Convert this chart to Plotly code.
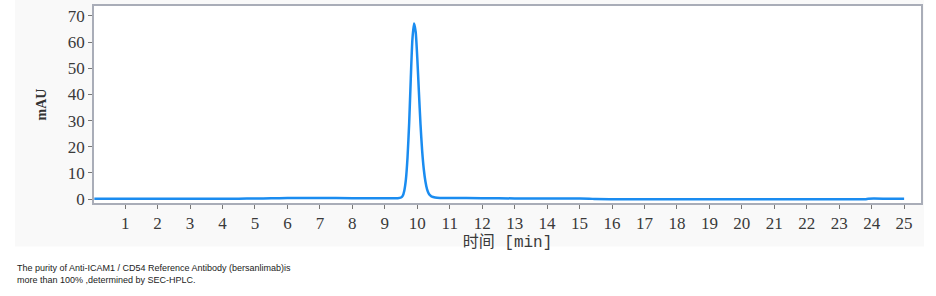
import plotly.graph_objects as go

# Chromatogram samples (time in min, signal in mAU)
time_min = [0.05, 1.0, 2.0, 3.0, 4.0, 4.5, 5.0, 5.5, 6.0, 7.0, 8.0, 9.0, 9.40, 9.50, 9.55,
            9.60, 9.65, 9.70, 9.75, 9.80, 9.85, 9.90, 9.95, 10.00, 10.05, 10.10,
            10.15, 10.20, 10.25, 10.30, 10.35, 10.40, 10.45, 10.55, 10.70, 11.0,
            12.0, 13.0, 14.0, 15.0, 15.3, 15.5, 16.0, 18.0, 20.0, 22.0, 23.8, 23.9,
            24.5, 25.0]
signal_mau = [0.1, 0.1, 0.1, 0.1, 0.1, 0.15, 0.2, 0.3, 0.4, 0.4, 0.35, 0.3, 0.3, 0.6, 1.2,
              3.2, 7.5, 16.0, 29.0, 46.0, 61.0, 67.1, 64.0, 54.0, 41.0, 28.5,
              18.5, 11.5, 6.8, 3.8, 2.2, 1.4, 0.9, 0.6, 0.45, 0.4,
              0.35, 0.25, 0.2, 0.2, 0.15, 0.0, -0.05, -0.05, -0.05, -0.05, -0.05, 0.15,
              0.15, 0.15]

x_ticks = list(range(1, 26))
y_ticks = [0, 10, 20, 30, 40, 50, 60, 70]

x_title = "时间 [min]"
y_title = "mAU"
caption = ("The purity of Anti-ICAM1 / CD54 Reference Antibody (bersanlimab)is<br>"
           "more than 100% ,determined by SEC-HPLC.")

fig = go.Figure()
fig.add_trace(go.Scatter(x=time_min, y=signal_mau, mode="lines",
                         line=dict(color="#1a8cf0", width=2.5, shape="spline", smoothing=0.6),
                         hoverinfo="skip", showlegend=False))

axis_color = "#a9adb8"
tick_font = dict(family="'Liberation Serif', 'DejaVu Serif', serif", size=17, color="#3a3a3a")

fig.update_xaxes(range=[0.04, 25.52], tickvals=x_ticks, ticks="outside", ticklen=4,
                 tickcolor="#777777", showline=True, linecolor=axis_color, linewidth=1.5,
                 mirror=True, showgrid=False, zeroline=False, tickfont=tick_font,
                 title=dict(text=x_title, standoff=1,
                            font=dict(family="'Liberation Mono', 'Noto Sans CJK SC', monospace",
                                      size=16, color="#3a3a3a")))
fig.update_yaxes(range=[-1.5, 73.8], tickvals=y_ticks, ticks="outside", ticklen=4,
                 tickcolor="#777777", showline=True, linecolor=axis_color, linewidth=1.5,
                 mirror=True, showgrid=False, zeroline=False, tickfont=tick_font,
                 title=dict(text="<b>" + y_title + "</b>", standoff=18,
                            font=dict(family="'Liberation Serif', serif", size=14,
                                      color="#333333")))

# light grey background panel behind the chart, plot area white on top
fig.add_shape(type="rect", xref="paper", yref="paper", x0=-0.0955, x1=1.0035,
              y0=-0.221, y1=1.03, fillcolor="#f9f9f9", line_width=0, layer="below")
fig.add_shape(type="rect", xref="paper", yref="paper", x0=0, x1=1, y0=0, y1=1,
              fillcolor="#ffffff", line_width=0, layer="below")

fig.add_annotation(text=caption, xref="paper", yref="paper", x=-0.0955, y=-0.295,
                   xanchor="left", yanchor="top", align="left", showarrow=False,
                   font=dict(family="'Liberation Sans', Arial, sans-serif", size=9,
                             color="#222222"))

fig.update_layout(width=936, height=296, margin=dict(l=94, r=15, t=4, b=93),
                  paper_bgcolor="#ffffff", plot_bgcolor="rgba(0,0,0,0)")

fig.write_html("out.html")
